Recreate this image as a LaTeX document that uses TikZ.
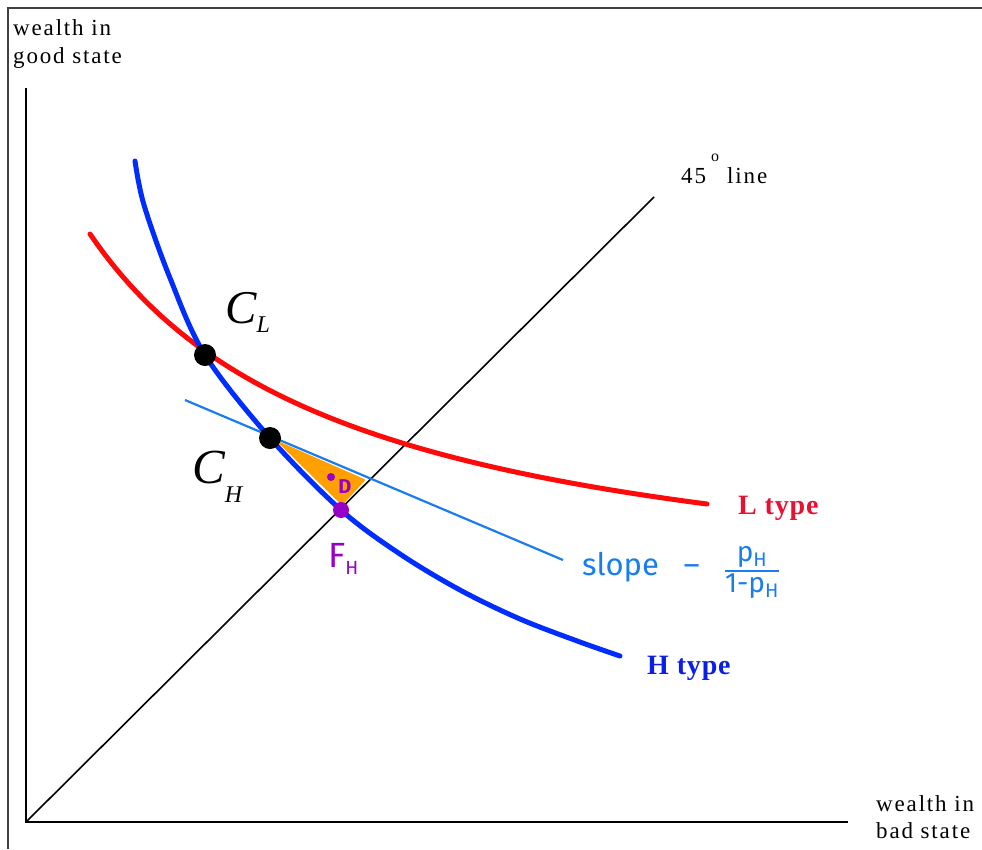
\documentclass[tikz,border=0pt]{standalone}
\usepackage{fontspec}
\setmainfont{Liberation Serif}
\newfontfamily\hand{Fira Sans}
\definecolor{ltred}{RGB}{255,10,10}
\definecolor{ltlab}{RGB}{232,17,50}
\definecolor{htblue}{RGB}{0,45,255}
\definecolor{htlab}{RGB}{10,30,230}
\definecolor{slopeblue}{RGB}{25,125,240}
\definecolor{purp}{RGB}{150,0,200}
\definecolor{orng}{RGB}{255,160,0}
\begin{document}
\begin{tikzpicture}[x=1pt,y=-1pt,
  lab/.style={inner sep=0pt,anchor=base west,font=\fontsize{23}{23}\selectfont\addfontfeatures{LetterSpace=8}},
  curve/.style={line width=5pt,line cap=round,line join=round},
  dot/.style={circle,fill=black,inner sep=0pt,minimum size=22pt},
  hw/.style={inner sep=0pt,font=\hand\fontsize{31}{31}\selectfont,text=slopeblue}]
\useasboundingbox (0,0) rectangle (982,849);
% frame
\draw[line width=1.5pt,black!75] (8,849) -- (8,8) -- (982,8);
% axes
\coordinate (O) at (26,822);
\coordinate (ytop) at (26,88);
\coordinate (xend) at (848,822);
\coordinate (d45) at (654,197);
\draw[line width=2pt] (ytop) -- (O) -- (xend);
\draw[line width=1.6pt] (O) -- (d45);
% axis labels
\node[lab] (yl1) at (13,35) {wealth in};
\node[lab] (yl2) at (13,63) {good state};
\node[lab] (xl1) at (876,811) {wealth in};
\node[lab] (xl2) at (876,838) {bad state};
\node[lab] (l45) at (681,183) {45};
\node[lab,font=\fontsize{16}{16}\selectfont] (deg) at (711,161) {o};
\node[lab] (lline) at (727,183) {line};
% red L curve
\draw[curve,ltred] plot[domain=90:707,samples=80] (\x,{619 - 1011.76/((\x+172.8)/100)});
% blue H curve
\draw[curve,htblue] plot[smooth,tension=0.55] coordinates {(135,161) (144,205) (170,278) (205,355) (270,438) (341,510) (400,554) (460,590) (520,619) (580,642) (620,656)};
% slope line
\coordinate (s1) at (185,400);
\coordinate (s2) at (563,560);
\draw[slopeblue,line width=2.2pt] (s1) -- (s2);
% orange triangle
\fill[orng] (280,443) -- (364,480) -- (342,504) -- cycle;
\draw[orng,line width=2pt,line join=round] (280,443) -- (364,480) -- (342,504) -- cycle;
% dots
\node[dot] (CL) at (205,355) {};
\node[dot] (CH) at (270,438) {};
\node[circle,fill=purp,inner sep=0pt,minimum size=16pt] (FH) at (341,510) {};
\node[circle,fill=purp,inner sep=0pt,minimum size=8pt] (Dd) at (331,477) {};
\node[inner sep=0pt,text=purp,font=\hand\bfseries\fontsize{20}{20}\selectfont] (D) at (345,487) {D};
% F_H label
\node[inner sep=0pt,anchor=base west,text=purp,font=\hand\fontsize{35}{35}\selectfont] (FHl) at (328,567) {F\raisebox{-0.22em}{\fontsize{19}{19}\selectfont H}};
% C labels
\node[inner sep=0pt,anchor=base west,font=\itshape\fontsize{47}{47}\selectfont] (CLl) at (225,323) {C\raisebox{-0.21em}{\fontsize{24}{24}\selectfont L}};
\node[inner sep=0pt,anchor=base west,font=\itshape\fontsize{49}{49}\selectfont] (CHl) at (192,483) {C\raisebox{-0.4em}{\fontsize{24}{24}\selectfont H}};
% type labels
\node[inner sep=0pt,anchor=base west,text=ltlab,font=\bfseries\fontsize{28}{28}\selectfont\addfontfeatures{LetterSpace=3}] (Lt) at (738,514) {L type};
\node[inner sep=0pt,anchor=base west,text=htlab,font=\bfseries\fontsize{28}{28}\selectfont\addfontfeatures{LetterSpace=3}] (Ht) at (647,674) {H type};
% slope annotation
\node[hw,anchor=base west] (slope) at (582,575) {slope\ \ \ –};
\node[hw,font=\hand\fontsize{28}{28}\selectfont] (frac) at (752,571) {\setlength{\arrayrulewidth}{2pt}\renewcommand{\arraystretch}{1.05}\begin{tabular}{@{}c@{}}p\textsubscript{H}\\\hline 1-p\textsubscript{H}\end{tabular}};
\end{tikzpicture}
\end{document}
